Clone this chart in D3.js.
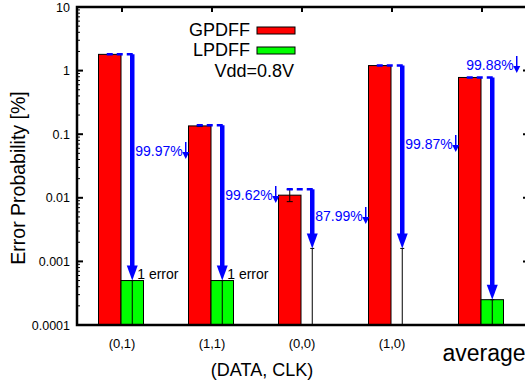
<!DOCTYPE html>
<html><head><meta charset="utf-8">
<script src="https://cdn.jsdelivr.net/npm/d3@7"></script>
<style>body{margin:0;background:#fff}svg{display:block}text{font-family:"Liberation Sans",Arial,Helvetica,sans-serif}</style>
</head><body>
<svg id="c" width="525" height="388"></svg>
<script>
// ---- data ----
const categories = ["(0,1)", "(1,1)", "(0,0)", "(1,0)", "average"];
const series = ["GPDFF", "LPDFF"];
const gpdff = [1.8, 0.135, 0.011, 1.2, 0.78];
const gpdffErrLo = [1.8, 0.132, 0.0087, 1.2, 0.78];
const gpdffErrHi = [1.8, 0.138, 0.0136, 1.2, 0.78];
const lpdff = [0.0005, 0.0005, 0, 0, 0.00025];
const lpdffErrHi = [0.0005, 0.0005, 0.0016, 0.0016, 0.00025];
const reductions = ["99.97%", "99.62%", "87.99%", "99.87%", "99.88%"];
const errorNotes = ["1 error", "1 error", "", "", ""];
const yTicks = [10, 1, 0.1, 0.01, 0.001, 0.0001];
const yTickLabels = ["10", "1", "0.1", "0.01", "0.001", "0.0001"];
const legendNote = "Vdd=0.8V";
const yTitle = "Error Probability [%]";
const xTitle = "(DATA, CLK)";

// ---- layout ----
const L = 77, R = 529, T = 7, B = 325;
const svg = d3.select("#c");
const y = d3.scaleLog().domain([1e-4, 10]).range([B, T]);
const x0 = d3.scaleBand().domain(categories).range([76, 526]).paddingInner(0.5).paddingOuter(0.25);
const x1 = d3.scaleBand().domain(series).range([0, x0.bandwidth()]);
const colors = {GPDFF: "#ff0000", LPDFF: "#00ff00"};
const blue = "#0000ff";

// bars
const gG = svg.append("g");
categories.forEach((c, i) => {
  const xr = x0(c) + x1("GPDFF");
  gG.append("rect").attr("x", xr).attr("y", y(gpdff[i])).attr("width", x1.bandwidth())
    .attr("height", B - y(gpdff[i])).attr("fill", colors.GPDFF).attr("stroke", "#000").attr("stroke-width", 1);
  const xg = x0(c) + x1("LPDFF");
  if (lpdff[i] > 0) {
    gG.append("rect").attr("x", xg).attr("y", y(lpdff[i])).attr("width", x1.bandwidth())
      .attr("height", B - y(lpdff[i])).attr("fill", colors.LPDFF).attr("stroke", "#000").attr("stroke-width", 1);
  }
  // error bars
  const cr = xr + x1.bandwidth() / 2, cg = xg + x1.bandwidth() / 2;
  if (gpdffErrHi[i] > gpdffErrLo[i]) {
    gG.append("line").attr("x1", cr).attr("x2", cr).attr("y1", y(gpdffErrLo[i])).attr("y2", y(gpdffErrHi[i])).attr("stroke", "#000");
    [gpdffErrLo[i], gpdffErrHi[i]].forEach(v => gG.append("line").attr("x1", cr - 3).attr("x2", cr + 3).attr("y1", y(v)).attr("y2", y(v)).attr("stroke", "#000"));
  }
  gG.append("line").attr("x1", cg).attr("x2", cg).attr("y1", y(lpdffErrHi[i])).attr("y2", B).attr("stroke", "#000").attr("stroke-width", 1);
  gG.append("line").attr("x1", cg - 2).attr("x2", cg + 2).attr("y1", y(lpdffErrHi[i])).attr("y2", y(lpdffErrHi[i])).attr("stroke", "#000");
});

// blue arrows + annotations
const labelY = [151, 195, 216, 144, 65];
const labelDx = [3, 3, 3, 3, -26];
categories.forEach((c, i) => {
  const cr = x0(c) + x1("GPDFF") + x1.bandwidth() / 2;
  const ax = x0(c) + x1("LPDFF") + x1.bandwidth() / 2;
  const y0 = y(gpdffErrHi[i]);
  const y1 = y(lpdffErrHi[i]);
  svg.append("line").attr("x1", cr - 3).attr("x2", ax + 2).attr("y1", y0).attr("y2", y0)
    .attr("stroke", blue).attr("stroke-width", 2.5).attr("stroke-dasharray", "6,4");
  svg.append("line").attr("x1", ax).attr("x2", ax).attr("y1", y0).attr("y2", y1 - 13)
    .attr("stroke", blue).attr("stroke-width", 4.5);
  svg.append("path").attr("d", `M${ax - 5.5},${y1 - 15}L${ax + 5.5},${y1 - 15}L${ax},${y1}Z`).attr("fill", blue);
  // label
  const t = svg.append("text").attr("x", ax + labelDx[i]).attr("y", labelY[i] + 5)
    .attr("fill", blue).attr("font-size", 14).text(reductions[i]);
  const w = t.node().getComputedTextLength();
  const sx = ax + labelDx[i] + w + 3, sy = labelY[i];
  svg.append("line").attr("x1", sx).attr("x2", sx).attr("y1", sy - 9).attr("y2", sy + 3)
    .attr("stroke", blue).attr("stroke-width", 1.5);
  svg.append("path").attr("d", `M${sx - 3.5},${sy + 1}L${sx + 3.5},${sy + 1}L${sx},${sy + 8}Z`).attr("fill", blue);
  if (errorNotes[i]) {
    svg.append("text").attr("x", ax + 5).attr("y", y1 - 2).attr("font-size", 14).attr("fill", "#000").text(errorNotes[i]);
  }
});

// axes frame
const ax = svg.append("g").attr("stroke", "#000");
ax.append("path").attr("d", `M${R},${T}L${L},${T}L${L},${B}L${R},${B}`).attr("fill", "none").attr("stroke-width", 2.5);
// y ticks
yTicks.forEach((v, i) => {
  ax.append("line").attr("x1", L).attr("x2", L + 6).attr("y1", y(v)).attr("y2", y(v)).attr("stroke-width", 2);
  ax.append("line").attr("x1", R).attr("x2", R - 6).attr("y1", y(v)).attr("y2", y(v)).attr("stroke-width", 2);
  svg.append("text").attr("x", 70).attr("y", y(v) + 4.5).attr("text-anchor", "end").attr("font-size", 12.5).attr("fill", "#000").text(yTickLabels[i]);
});
y.ticks().filter(v => !yTicks.includes(v)).forEach(v => {
  ax.append("line").attr("x1", L).attr("x2", L + 3).attr("y1", y(v)).attr("y2", y(v)).attr("stroke-width", 1);
});
// top ticks
categories.forEach(c => {
  const cx = x0(c) + x0.bandwidth() / 2 + 1;
  ax.append("line").attr("x1", cx).attr("x2", cx).attr("y1", T).attr("y2", T + 5).attr("stroke-width", 2);
});
// x labels
categories.forEach((c, i) => {
  const cx = x0(c) + x0.bandwidth() / 2 + 1;
  const big = c === "average";
  svg.append("text").attr("x", big ? cx + 2 : cx).attr("y", big ? 361 : 348).attr("text-anchor", "middle")
    .attr("font-size", big ? 23 : 13).attr("fill", "#000").text(c);
});
svg.append("text").attr("x", 262).attr("y", 376).attr("text-anchor", "middle").attr("font-size", 18).attr("fill", "#000").text(xTitle);
svg.append("text").attr("transform", "translate(25,178) rotate(-90)").attr("text-anchor", "middle").attr("font-size", 19.5).attr("fill", "#000").text(yTitle);

// legend
series.forEach((s, i) => {
  const by = 36 + i * 20;
  svg.append("text").attr("x", 250).attr("y", by).attr("text-anchor", "end").attr("font-size", 18).attr("fill", "#000").text(s);
  svg.append("rect").attr("x", 257).attr("y", by - 9).attr("width", 38).attr("height", 7)
    .attr("fill", colors[s]).attr("stroke", "#000").attr("stroke-width", 1);
});
svg.append("text").attr("x", 294).attr("y", 77).attr("text-anchor", "end").attr("font-size", 18).attr("fill", "#000").text(legendNote);
</script>
</body></html>
